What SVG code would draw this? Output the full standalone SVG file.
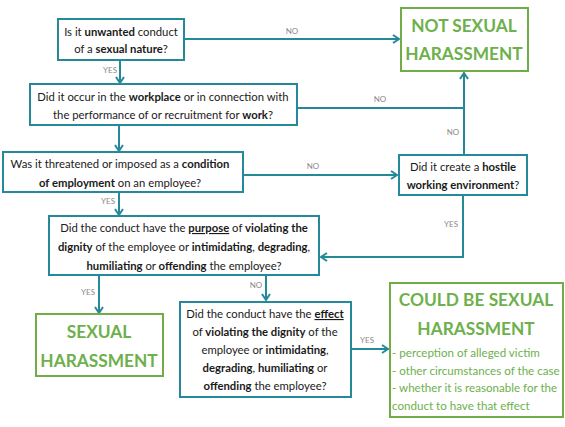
<svg xmlns="http://www.w3.org/2000/svg" width="565" height="427" viewBox="0 0 565 427">
<defs>
<marker id="ah" markerWidth="10" markerHeight="10" refX="7" refY="5" orient="auto" markerUnits="userSpaceOnUse">
<path d="M1,1 L7,5 L1,9" fill="none" stroke="#26899a" stroke-width="2"/>
</marker>
<style>
.q{fill:#fff;stroke:#26899a;stroke-width:2}
.r{fill:#fff;stroke:#70ad47;stroke-width:2}
.t{font-family:Lato,"Liberation Sans",sans-serif;font-size:11.3px;fill:#1a1a1a;text-anchor:middle}
.g{font-family:Lato,"Liberation Sans",sans-serif;font-size:17.3px;font-weight:bold;fill:#6eb04c;text-anchor:middle}
.gb{font-family:Lato,"Liberation Sans",sans-serif;font-size:11.6px;fill:#6eb04c}
.l{font-family:Lato,"Liberation Sans",sans-serif;font-size:8px;fill:#888;text-anchor:middle}
.c{fill:none;stroke:#26899a;stroke-width:2}
</style>
</defs>
<g id="connectors">
<path class="c" d="M184,39 H399" marker-end="url(#ah)"/>
<path class="c" d="M120,60 V83" marker-end="url(#ah)"/>
<path class="c" d="M297,108 H464"/>
<path class="c" d="M464,155 V73" marker-end="url(#ah)"/>
<path class="c" d="M119,125 V151" marker-end="url(#ah)"/>
<path class="c" d="M243,175 H397" marker-end="url(#ah)"/>
<path class="c" d="M119,192 V215" marker-end="url(#ah)"/>
<path class="c" d="M463,195 V257 H321" marker-end="url(#ah)"/>
<path class="c" d="M99,275 V313" marker-end="url(#ah)"/>
<path class="c" d="M266,275 V300" marker-end="url(#ah)"/>
<path class="c" d="M351,349 H388" marker-end="url(#ah)"/>
<text class="l" x="292" y="34">NO</text>
<text class="l" x="110" y="73">YES</text>
<text class="l" x="380" y="102">NO</text>
<text class="l" x="453" y="135">NO</text>
<text class="l" x="108" y="204">YES</text>
<text class="l" x="313" y="169">NO</text>
<text class="l" x="451" y="227">YES</text>
<text class="l" x="88" y="295">YES</text>
<text class="l" x="256" y="288">NO</text>
<text class="l" x="367" y="343">YES</text>
</g>
<g id="q1">
<rect class="q" x="58" y="19" width="126" height="41"/>
<text class="t" x="121" y="36">Is it <tspan font-weight="bold">unwanted</tspan> conduct</text>
<text class="t" x="121" y="53">of a <tspan font-weight="bold">sexual nature</tspan>?</text>
</g>
<g id="not">
<rect class="r" x="401" y="8" width="127" height="63"/>
<text class="g" x="464" y="32">NOT SEXUAL</text>
<text class="g" x="464" y="60">HARASSMENT</text>
</g>
<g id="q2">
<rect class="q" x="30" y="84" width="267" height="41"/>
<text class="t" x="163" y="101">Did it occur in the <tspan font-weight="bold">workplace</tspan> or in connection with</text>
<text class="t" x="163" y="119">the performance of or recruitment for <tspan font-weight="bold">work</tspan>?</text>
</g>
<g id="q3">
<rect class="q" x="3" y="152" width="240" height="40"/>
<text class="t" x="120" y="168">Was it threatened or imposed as a <tspan font-weight="bold">condition</tspan></text>
<text class="t" x="120" y="187"><tspan font-weight="bold">of employment</tspan> on an employee?</text>
</g>
<g id="hostile">
<rect class="q" x="399" y="155" width="128" height="40"/>
<text class="t" x="463" y="171">Did it create a <tspan font-weight="bold">hostile</tspan></text>
<text class="t" x="463" y="189"><tspan font-weight="bold">working environment</tspan>?</text>
</g>
<g id="purpose">
<rect class="q" x="49" y="216" width="270" height="59"/>
<text class="t" x="184" y="232">Did the conduct have the <tspan font-weight="bold" text-decoration="underline">purpose</tspan> of <tspan font-weight="bold">violating the</tspan></text>
<text class="t" x="184" y="251"><tspan font-weight="bold">dignity</tspan> of the employee or <tspan font-weight="bold">intimidating</tspan>, <tspan font-weight="bold">degrading</tspan>,</text>
<text class="t" x="184" y="270"><tspan font-weight="bold">humiliating</tspan> or <tspan font-weight="bold">offending</tspan> the employee?</text>
</g>
<g id="sexual">
<rect class="r" x="36" y="314" width="127" height="62"/>
<text class="g" x="99" y="338">SEXUAL</text>
<text class="g" x="99" y="367">HARASSMENT</text>
</g>
<g id="effect">
<rect class="q" x="180" y="302" width="171" height="95"/>
<text class="t" x="265" y="318">Did the conduct have the <tspan font-weight="bold" text-decoration="underline">effect</tspan></text>
<text class="t" x="265" y="336">of <tspan font-weight="bold">violating the dignity</tspan> of the</text>
<text class="t" x="265" y="354">employee or <tspan font-weight="bold">intimidating</tspan>,</text>
<text class="t" x="265" y="372"><tspan font-weight="bold">degrading</tspan>, <tspan font-weight="bold">humiliating</tspan> or</text>
<text class="t" x="265" y="390"><tspan font-weight="bold">offending</tspan> the employee?</text>
</g>
<g id="could">
<rect class="r" x="390" y="283" width="173" height="134"/>
<text class="g" x="476" y="306">COULD BE SEXUAL</text>
<text class="g" x="476" y="335">HARASSMENT</text>
<text class="gb" x="392" y="357">- perception of alleged victim</text>
<text class="gb" x="392" y="375">- other circumstances of the case</text>
<text class="gb" x="392" y="392">- whether it is reasonable for the</text>
<text class="gb" x="392" y="410">conduct to have that effect</text>
</g>
</svg>
